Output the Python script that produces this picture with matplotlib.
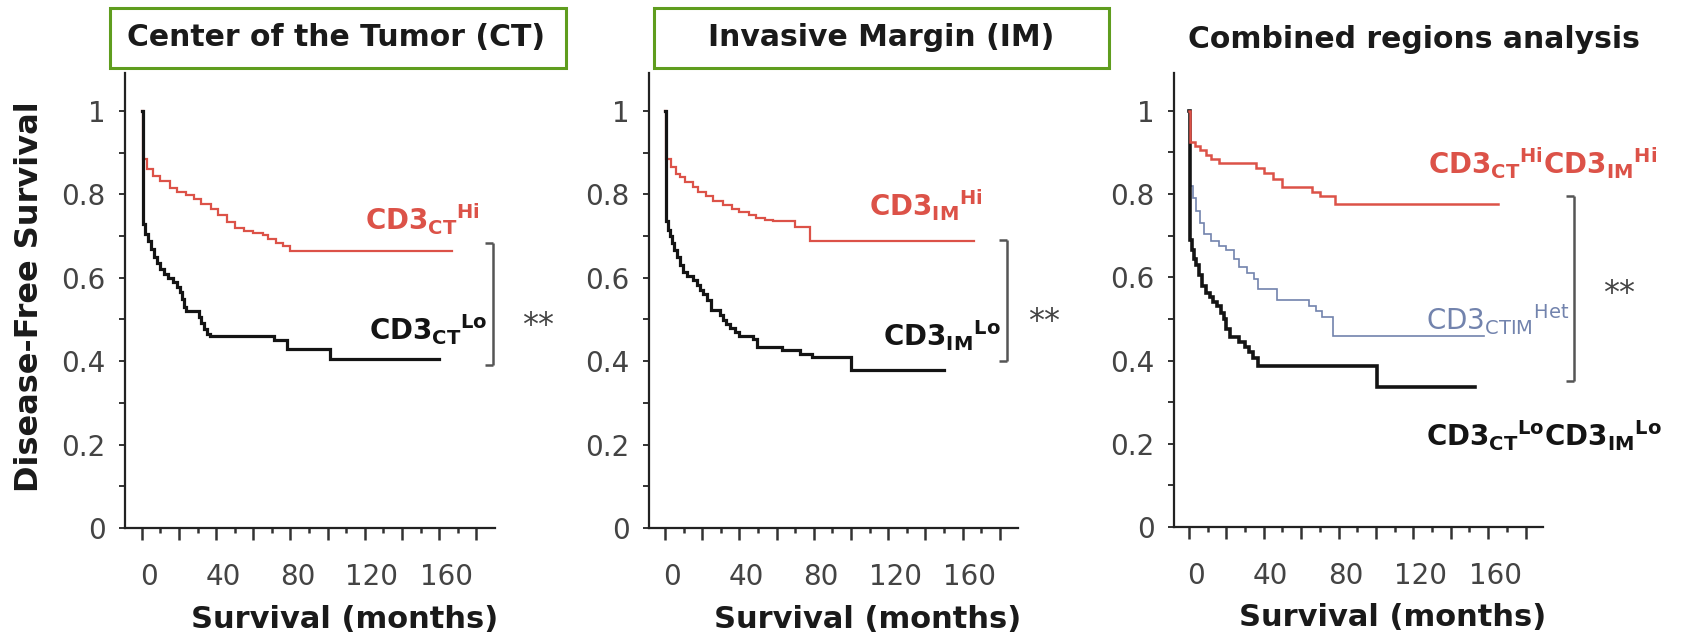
import matplotlib
matplotlib.use("Agg")
import matplotlib.pyplot as plt
from matplotlib.patches import Rectangle
from matplotlib.transforms import ScaledTranslation

plt.rcParams["font.family"] = ["DejaVu Sans"]
plt.rcParams["mathtext.fontset"] = "dejavusans"

W, H = 1692, 635
DPI = 100

RED = "#dc5248"
BLUE = "#7283ad"
BLACK = "#141414"
GREEN = "#5f9d1e"
GREY = "#444444"

# Kaplan-Meier curves: event times (months) and survival after each event
ct_hi_t = [0.5, 3, 6, 10, 15, 19, 24, 28, 32, 37, 41, 46, 50, 55, 60, 65, 68, 72, 76, 80]
ct_hi_s = [0.885, 0.862, 0.845, 0.832, 0.815, 0.805, 0.798, 0.788, 0.778, 0.764,
           0.750, 0.734, 0.720, 0.712, 0.708, 0.702, 0.694, 0.684, 0.676, 0.665]
ct_hi_end = 167

ct_lo_t = [0.5, 2, 3.5, 5, 6.5, 8, 10, 12, 14, 17, 19, 20.5, 21.5, 22.5, 24,
           31, 32, 33.5, 35, 36.5, 71, 78, 101]
ct_lo_s = [0.728, 0.705, 0.688, 0.668, 0.650, 0.636, 0.622, 0.610, 0.600, 0.590,
           0.578, 0.566, 0.548, 0.530, 0.520, 0.505, 0.492, 0.478, 0.466, 0.460,
           0.450, 0.430, 0.405]
ct_lo_end = 160

im_hi_t = [0.5, 3, 6, 8, 11, 15, 18, 22, 26, 31, 36, 40, 45, 49, 54, 58, 70, 78]
im_hi_s = [0.885, 0.865, 0.850, 0.842, 0.830, 0.818, 0.806, 0.795, 0.785, 0.775,
           0.766, 0.758, 0.750, 0.743, 0.738, 0.735, 0.722, 0.687]
im_hi_end = 166

im_lo_t = [0.5, 1.5, 2.7, 4, 5, 6.3, 8, 9.8, 12, 15, 17, 18.8, 20.5, 22.4, 25,
           29.6, 31.4, 33, 35, 37.5, 40, 47.5, 49.3, 63, 72.5, 79, 100]
im_lo_s = [0.735, 0.715, 0.700, 0.683, 0.667, 0.650, 0.630, 0.615, 0.605, 0.595,
           0.583, 0.571, 0.560, 0.547, 0.523, 0.510, 0.499, 0.490, 0.480, 0.470,
           0.460, 0.452, 0.435, 0.428, 0.418, 0.410, 0.380]
im_lo_end = 150

hihi_t = [0.5, 3, 6, 9, 12, 16, 36, 40, 45, 50, 66, 70, 78]
hihi_s = [0.925, 0.915, 0.905, 0.895, 0.885, 0.874, 0.862, 0.850, 0.836, 0.818,
          0.806, 0.796, 0.777]
hihi_end = 165

het_t = [0.5, 2, 4, 6, 8, 12, 16, 20, 24, 27, 31, 35, 37, 47, 64, 68, 71, 77]
het_s = [0.820, 0.790, 0.760, 0.730, 0.705, 0.688, 0.675, 0.665, 0.645, 0.625,
         0.610, 0.595, 0.572, 0.545, 0.530, 0.520, 0.505, 0.458]
het_end = 158

lolo_t = [0.5, 1.5, 2.5, 4, 5.5, 7, 9, 11, 13, 15, 17, 18.5, 20, 22, 27, 30, 32,
          34.5, 37, 100.5]
lolo_s = [0.690, 0.665, 0.645, 0.630, 0.605, 0.580, 0.562, 0.552, 0.540, 0.532,
          0.515, 0.500, 0.475, 0.456, 0.444, 0.432, 0.420, 0.405, 0.388, 0.336]
lolo_end = 153

titles = ["Center of the Tumor (CT)", "Invasive Margin (IM)", "Combined regions analysis"]
x_ticks = list(range(0, 181, 20))
x_ticklabels = ["0", "", "40", "", "80", "", "120", "", "160", ""]
y_ticks = [0, 0.2, 0.4, 0.6, 0.8, 1.0]
y_ticklabels = ["0", "0.2", "0.4", "0.6", "0.8", "1"]


def km(ax, times, surv, end, color, lw):
    xs = [0] + list(times) + [end]
    ys = [1.0] + list(surv) + [surv[-1]]
    ax.step(xs, ys, where="post", color=color, lw=lw, solid_joinstyle="miter")


def px_axes(fig, left, top, right, bottom):
    return fig.add_axes([left / W, 1 - bottom / H, (right - left) / W, (bottom - top) / H])


def style_axes(ax, xlim):
    ax.set_xlim(*xlim)
    ax.set_ylim(0, 1.091)
    for side in ("top", "right"):
        ax.spines[side].set_visible(False)
    for side in ("left", "bottom"):
        ax.spines[side].set_linewidth(1.6)
        ax.spines[side].set_color("#222222")
    ax.set_xticks(x_ticks)
    ax.set_xticklabels(x_ticklabels)
    ax.set_xticks(range(10, 180, 20), minor=True)
    ax.set_yticks(y_ticks)
    ax.set_yticklabels(y_ticklabels)
    ax.set_yticks([0.1, 0.3, 0.5, 0.7, 0.9], minor=True)
    ax.tick_params(axis="x", which="major", length=8.5, width=1.8, pad=17,
                   labelsize=20, labelcolor=GREY, color="#333333")
    ax.tick_params(axis="x", which="minor", length=3.6, width=1.8, color="#333333")
    ax.tick_params(axis="y", which="both", length=4.3, width=1.4, pad=9.5,
                   labelsize=20, labelcolor=GREY, color="#333333")
    shift = ScaledTranslation(7 / DPI, 0, ax.figure.dpi_scale_trans)
    for lab in ax.get_xticklabels():
        lab.set_transform(lab.get_transform() + shift)
    ax.text(0.593, -0.2, "Survival (months)", transform=ax.transAxes,
            ha="center", va="center", fontsize=22, fontweight="bold", color="#1a1a1a")


def bracket(ax, x, y0, y1):
    kw = dict(color="#555555", lw=1.8, clip_on=False, solid_capstyle="butt")
    ax.plot([x, x], [y0, y1], **kw)
    ax.plot([x - 4.5, x], [y0, y0], **kw)
    ax.plot([x - 4.5, x], [y1, y1], **kw)


def stars(ax, x, y):
    ax.text(x, y, "**", ha="center", va="center", fontsize=23, color="#444444",
            clip_on=False)


fig = plt.figure(figsize=(W / DPI, H / DPI), dpi=DPI)

ax1 = px_axes(fig, 125, 73, 495, 528)
ax2 = px_axes(fig, 649, 73, 1018, 528)
ax3 = px_axes(fig, 1174, 73, 1543, 527)
style_axes(ax1, (-9, 190))
style_axes(ax2, (-8.6, 189.8))
style_axes(ax3, (-8, 189.3))

# center of the tumor
km(ax1, ct_hi_t, ct_hi_s, ct_hi_end, RED, 1.6)
km(ax1, ct_lo_t, ct_lo_s, ct_lo_end, BLACK, 2.3)
ax1.text(182, 0.715, r"$\mathbf{CD3}_{\mathbf{CT}}{}^{\mathbf{Hi}}$", color=RED,
         fontsize=20, ha="right", va="baseline", clip_on=False)
ax1.text(186, 0.451, r"$\mathbf{CD3}_{\mathbf{CT}}{}^{\mathbf{Lo}}$", color=BLACK,
         fontsize=20, ha="right", va="baseline", clip_on=False)
bracket(ax1, 189, 0.39, 0.683)
stars(ax1, 213, 0.485)

# invasive margin
km(ax2, im_hi_t, im_hi_s, im_hi_end, RED, 1.6)
km(ax2, im_lo_t, im_lo_s, im_lo_end, BLACK, 2.3)
ax2.text(171, 0.747, r"$\mathbf{CD3}_{\mathbf{IM}}{}^{\mathbf{Hi}}$", color=RED,
         fontsize=20, ha="right", va="baseline", clip_on=False)
ax2.text(180.6, 0.435, r"$\mathbf{CD3}_{\mathbf{IM}}{}^{\mathbf{Lo}}$", color=BLACK,
         fontsize=20, ha="right", va="baseline", clip_on=False)
bracket(ax2, 184, 0.40, 0.69)
stars(ax2, 204, 0.495)

# combined regions
km(ax3, het_t, het_s, het_end, BLUE, 1.2)
km(ax3, lolo_t, lolo_s, lolo_end, BLACK, 2.6)
km(ax3, hihi_t, hihi_s, hihi_end, RED, 1.8)
ax3.text(128, 0.848,
         r"$\mathbf{CD3}_{\mathbf{CT}}{}^{\mathbf{Hi}}\mathbf{CD3}_{\mathbf{IM}}{}^{\mathbf{Hi}}$",
         color=RED, fontsize=20, ha="left", va="baseline", clip_on=False)
ax3.text(127, 0.472, r"$\mathrm{CD3}_{\mathrm{CTIM}}{}^{\mathrm{Het}}$", color=BLUE,
         fontsize=20, ha="left", va="baseline", clip_on=False)
ax3.text(127, 0.194,
         r"$\mathbf{CD3}_{\mathbf{CT}}{}^{\mathbf{Lo}}\mathbf{CD3}_{\mathbf{IM}}{}^{\mathbf{Lo}}$",
         color=BLACK, fontsize=20, ha="left", va="baseline", clip_on=False)
bracket(ax3, 206, 0.35, 0.795)
stars(ax3, 230, 0.56)

# panel headings, the first two framed
for (x0, x1) in [(110, 566), (654, 1109)]:
    fig.add_artist(Rectangle((x0 / W, 1 - 68 / H), (x1 - x0) / W, 60 / H,
                             transform=fig.transFigure, fill=False,
                             edgecolor=GREEN, lw=2.2))
for cx, cy, title in zip([336, 881, 1414], [38, 38, 40], titles):
    fig.text(cx / W, 1 - cy / H, title, ha="center", va="center",
             fontsize=21.5, fontweight="bold", color="#1a1a1a")

fig.text(30 / W, 1 - 297 / H, "Disease-Free Survival", rotation=90,
         ha="center", va="center", fontsize=23, fontweight="bold", color="#1a1a1a")

fig.savefig("out.png", dpi=DPI)
